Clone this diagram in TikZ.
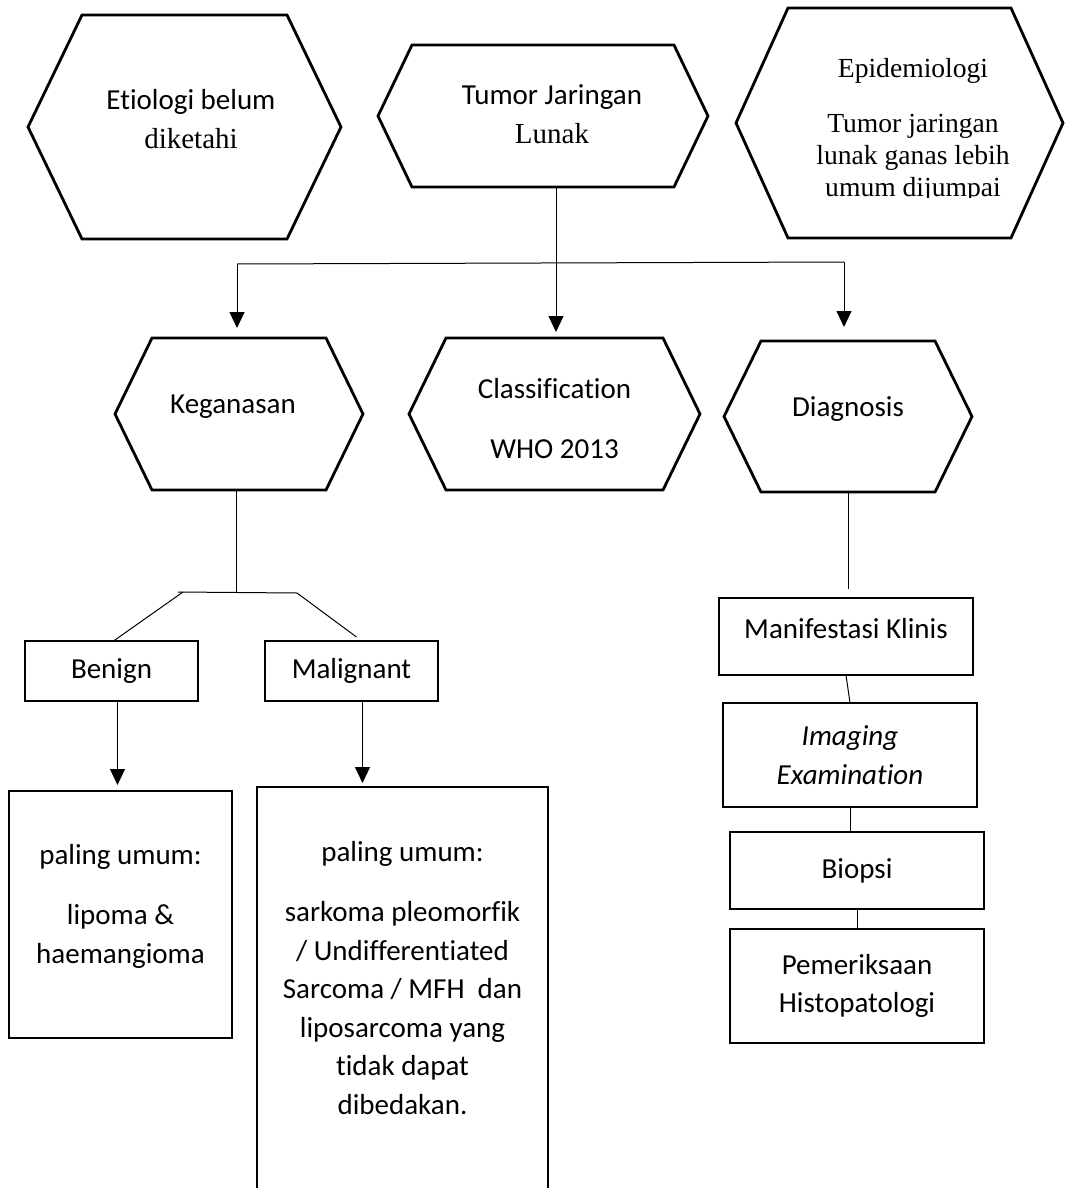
\documentclass[tikz,border=0pt]{standalone}
\usepackage{fontspec}
\setmainfont{Liberation Serif}
\newfontfamily\calibri[Ligatures=NoCommon]{Carlito}
\usetikzlibrary{positioning}
\usetikzlibrary{calc, arrows.meta}

\newcommand{\tnr}{\rmfamily\fontsize{14.5}{19.25}\selectfont}
% hexagon drawn around a node: #1 node, #2 inset of the side points
\newcommand{\hexa}[2]{%
  \draw[hexline] ($(#1.north west)+(#2,0)$) -- ($(#1.north east)+(-#2,0)$) -- (#1.east)
    -- ($(#1.south east)+(-#2,0)$) -- ($(#1.south west)+(#2,0)$) -- (#1.west) -- cycle;}

\tikzset{
  ghost/.style={inner sep=0pt, outer sep=0pt},
  frame/.style={draw, line width=1.2pt, inner sep=0pt, outer sep=0pt},
  hexline/.style={line width=1.4pt, line join=miter},
  txt/.style={font=\calibri\fontsize{14.5}{19.25}\selectfont, align=center},
  link/.style={line width=0.5pt},
  arrow/.style={link, -{Triangle[width=7.5pt,length=8pt]}},
}

\begin{document}
\begin{tikzpicture}[x=0.5pt, y=-0.5pt]
  \path[use as bounding box] (0,0) rectangle (1079,1188);
  \clip (0,0) rectangle (1079,1188);

  % top row
  \node[ghost, minimum width=156.5pt, minimum height=112pt,
    label={[txt, xshift=3.25pt, yshift=4pt]center:{Etiologi belum\\{\tnr diketahi}}}] (etio) at (184.5,127) {};
  \node[ghost, minimum width=165pt, minimum height=71pt,
    label={[txt, xshift=4.5pt, yshift=1pt]center:{Tumor Jaringan\\{\tnr Lunak}}}] (tumor) at (543,116) {};
  \begin{scope}
    \clip (700,0) rectangle (1079,197); % last line is cut off
    \node[ghost, minimum width=163.5pt, minimum height=115pt,
      label={[align=center, font=\rmfamily\fontsize{13.8}{16}\selectfont, xshift=6.75pt, yshift=-3.75pt]center:{Epidemiologi\\[11.5pt]Tumor jaringan\\lunak ganas lebih\\umum dijumpai}}] (epid) at (899.5,123) {};
  \end{scope}
  \hexa{etio}{54}
  \hexa{tumor}{34}
  \hexa{epid}{52}

  % middle row
  \node[ghost, minimum width=124pt, minimum height=76pt,
    label={[txt, xshift=-3pt, yshift=3.75pt]center:Keganasan}] (kegan) at (239,414) {};
  \node[ghost, minimum width=145.5pt, minimum height=76pt,
    label={[txt, yshift=-2.25pt]center:{Classification\\[11pt]WHO 2013}}] (classif) at (554.5,414) {};
  \node[ghost, minimum width=124pt, minimum height=75.5pt,
    label={[txt, yshift=3.5pt]center:Diagnosis}] (diag) at (848,416.5) {};
  \hexa{kegan}{37}
  \hexa{classif}{37}
  \hexa{diag}{37}

  \coordinate (split) at (556,263);
  \coordinate (bar-l) at (237,264);
  \coordinate (bar-r) at (844,262);
  \draw[link] (tumor.south -| split) -- (split);
  \draw[link] (bar-l) -- (bar-r);
  \draw[arrow, shorten >=5pt] (bar-l) -- (bar-l |- kegan.north);
  \draw[arrow, shorten >=3pt] (split) -- (split |- classif.north);
  \draw[arrow, shorten >=7pt] (bar-r) -- (bar-r |- diag.north);

  % keganasan branch
  \node[frame, txt, minimum width=86.5pt, minimum height=30pt] (benign) at (111.5,671) {Benign};
  \node[frame, txt, minimum width=86.5pt, minimum height=30pt] (malig) at (351.5,671) {Malignant};
  \node[frame, minimum width=111.5pt, minimum height=123.5pt,
    label={[txt, yshift=4.25pt]center:{paling umum:\\[11pt]lipoma \&\\haemangioma}}] (benlist) at (120.5,914.5) {};
  \node[frame, minimum width=145.5pt, minimum height=214pt,
    label={[txt, yshift=11.5pt]center:{paling umum:\\[11pt]sarkoma pleomorfik\\/ Undifferentiated\\Sarcoma / MFH \ dan\\liposarcoma yang\\tidak dapat\\dibedakan.}}] (maliglist) at (402.5,1001) {};

  \coordinate (fork) at (236,592);
  \coordinate (fork-l) at (178,592);
  \coordinate (fork-r) at (297,593);
  \draw[link] (kegan.south -| fork) -- (fork);
  \draw[link] (fork-l) -- (fork-r);
  \draw[link] ($(fork-l)+(5,0)$) -- ($(benign.north)+(2,0)$);
  \draw[link] (fork-r) -- ($(malig.north)+(5,-4)$);
  \coordinate (ben-out) at ($(benign.south)+(6,0)$);
  \coordinate (malig-out) at ($(malig.south)+(11,0)$);
  \draw[arrow, shorten >=3pt] (ben-out) -- (ben-out |- benlist.north);
  \draw[arrow, shorten >=2pt] (malig-out) -- (malig-out |- maliglist.north);

  % diagnosis column
  \node[frame, minimum width=127pt, minimum height=38.5pt,
    label={[txt, yshift=4pt]center:Manifestasi Klinis}] (manif) at (846,636.5) {};
  \node[frame, txt, font=\calibri\itshape\fontsize{14.5}{19.25}\selectfont,
    minimum width=127pt, minimum height=52pt] (imaging) at (850,755) {Imaging\\Examination};
  \node[frame, txt, minimum width=127pt, minimum height=38.5pt] (biopsi) at (857,870.5) {Biopsi};
  \node[frame, txt, minimum width=127pt, minimum height=57pt] (histo) at (857,986) {Pemeriksaan\\Histopatologi};

  \draw[link, shorten >=4.5pt] (diag.south) -- (diag.south |- manif.north);
  \draw[link] (manif.south) -- (imaging.north);
  \draw[link] (imaging.south) -- (imaging.south |- biopsi.north);
  \draw[link] (biopsi.south) -- (histo.north);
\end{tikzpicture}
\end{document}
